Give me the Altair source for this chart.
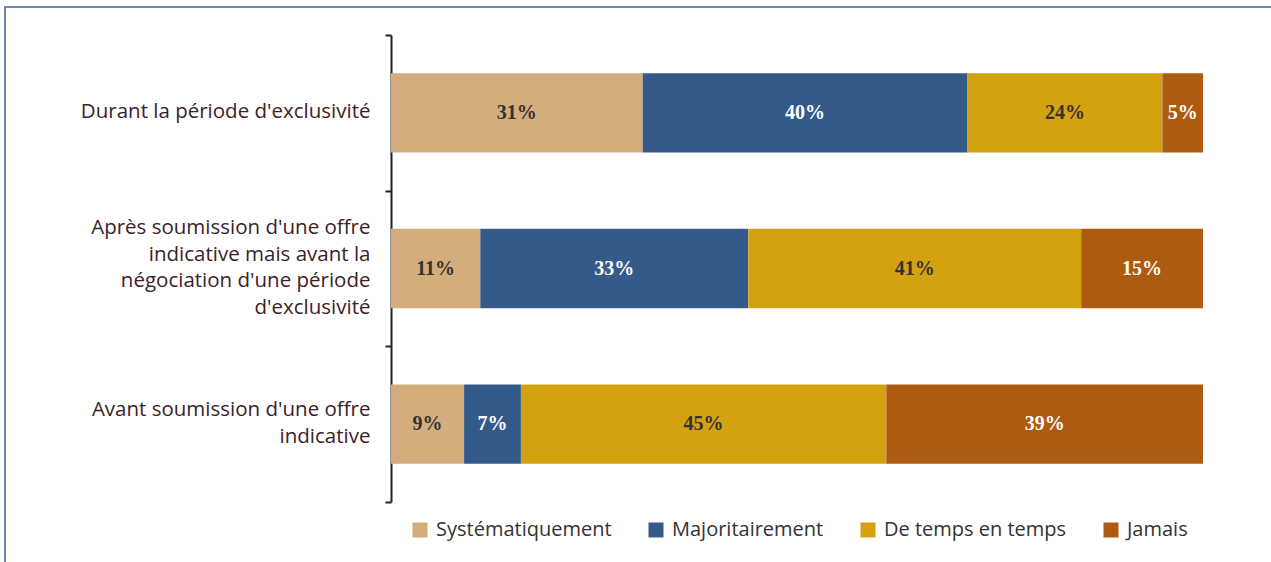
import altair as alt
import pandas as pd

categories = [
    "Durant la période d'exclusivité",
    "Après soumission d'une offre|indicative mais avant la|négociation d'une période|d'exclusivité",
    "Avant soumission d'une offre|indicative",
]
series = ["Systématiquement", "Majoritairement", "De temps en temps", "Jamais"]
colors = ["#D3AD7B", "#345A8A", "#D4A111", "#AD5B10"]
values = [
    [31, 40, 24, 5],
    [11, 33, 41, 15],
    [9, 7, 45, 39],
]

rows = []
for ci, cat in enumerate(categories):
    for si, s in enumerate(series):
        rows.append({"cat": cat, "series": s, "order": si, "value": values[ci][si],
                     "label": f"{values[ci][si]}%"})
df = pd.DataFrame(rows)

base = alt.Chart(df).transform_stack(
    stack="value", groupby=["cat"], as_=["x0", "x1"], sort=[alt.SortField("order")]
).transform_calculate(mid="(datum.x0 + datum.x1) / 2")

LH = 26.5
y_enc = alt.Y(
    "cat:N", sort=categories, title=None,
    scale=alt.Scale(paddingInner=0, paddingOuter=0),
    axis=alt.Axis(
        labelExpr="split(datum.label, '|')",
        labelFont="Open Sans", labelFontSize=20.5, labelColor="#3b2229",
        labelLineHeight=LH, labelPadding=15, labelLimit=400,
        labelBaseline="middle",
        labelOffset={"expr": f"-(length(split(datum.value, '|')) - 1) * {LH} / 2 - 1"},
        domainColor="#222222", domainWidth=2,
        tickColor="#222222", tickWidth=2, tickSize=6, tickBand="extent",
    ),
)

bars = base.mark_bar(height=alt.RelativeBandSize(0.51)).encode(
    x=alt.X("x0:Q", scale=alt.Scale(domain=[0, 100]), axis=None),
    x2="x1:Q",
    y=y_enc,
    color=alt.Color(
        "series:N", sort=series,
        scale=alt.Scale(domain=series, range=colors),
        legend=alt.Legend(
            title=None, orient="none", direction="horizontal",
            legendX=19, legendY=485, padding=0,
            symbolType="square", symbolSize=225, symbolStrokeWidth=0, symbolOpacity=1,
            labelFont="Open Sans", labelFontSize=20, labelColor="#333333",
            labelLimit=400, columnPadding=34, labelOffset=6,
        ),
    ),
)

texts = base.mark_text(font="Liberation Serif", fontWeight="bold", fontSize=20).encode(
    x=alt.X("mid:Q"),
    y=alt.Y("cat:N", sort=categories),
    text="label:N",
    color=alt.condition(
        "datum.series == 'Majoritairement' || datum.series == 'Jamais'",
        alt.value("#ffffff"), alt.value("#333333"),
    ),
)

frame = alt.Chart(pd.DataFrame({"a": [0]})).mark_rect(
    fill=None, stroke="#7088a8", strokeWidth=2
).encode(
    x=alt.value(-386), x2=alt.value(950), y=alt.value(-28), y2=alt.value(640)
)

chart = alt.layer(frame, bars, texts).properties(
    width=812, height=467,
    background="white",
    autosize=alt.AutoSizeParams(type="none"),
    padding={"left": 391, "top": 35, "right": 68, "bottom": 60},
).configure_view(strokeWidth=0, stroke=None)

chart.save("out.html", embed_options={"renderer": "svg", "actions": False})
